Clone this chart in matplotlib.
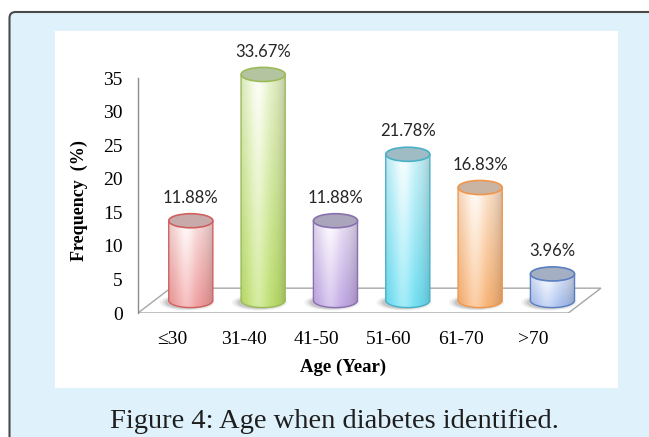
import numpy as np
import matplotlib.pyplot as plt
import matplotlib.colors as mcolors
from matplotlib.patches import Ellipse, Polygon, Rectangle, FancyBboxPatch

# age groups and share of patients (%)
ages = ['≤30', '31-40', '41-50', '51-60', '61-70', '>70']
freq = [11.88, 33.67, 11.88, 21.78, 16.83, 3.96]

body_colors = ['#ee8c8c', '#b5dc5a', '#b89be0', '#5cdcf2', '#f8a860', '#98b4ec']
edge_colors = ['#d06060', '#9bbb59', '#8a70b0', '#4ab0c8', '#f0964a', '#5a7fc0']
top_colors = ['#c8aaaa', '#b5c4a0', '#aaa5bb', '#9fbcc4', '#c9b4a4', '#a5afc4']

serif = ['Liberation Serif', 'DejaVu Serif']

W, H = 649, 437
fig = plt.figure(figsize=(W / 100, H / 100), dpi=100)

# page background: blue panel with white chart area
bg = fig.add_axes([0, 0, 1, 1])
bg.set_xlim(0, W)
bg.set_ylim(H, 0)
bg.axis('off')
bg.add_patch(FancyBboxPatch((9.5, 12), 700, 500,
                            boxstyle='round,pad=0,rounding_size=6',
                            fc='#dff1fa', ec='#4a4a4a', lw=1.5))
bg.add_patch(Rectangle((55, 31), 563, 357, fc='white', ec='none'))
bg.text(334, 421, 'Figure 4: Age when diabetes identified.', ha='center',
        va='center', fontsize=20.5, family=serif, color='#1e1e1e')

# y axis: 6.714 px per unit, zero at y=313 px; extra headroom for the tallest top
ymax = 39
ax = fig.add_axes([138 / W, 1 - 313 / H, 468 / W, ymax * 6.714 / H])
ax.patch.set_visible(False)

# pseudo-3d geometry
depth_dx, depth_dy = 0.45, 3.7
bar_dx = 0.26
base = 1.86
bw = 0.61
eh = 2.1

# floor
floor = [(-0.47, 0), (5.48, 0), (5.48 + depth_dx, depth_dy), (-0.47 + depth_dx, depth_dy)]
ax.add_patch(Polygon(floor, closed=True, fc='white', ec='#a6a6a6', lw=1.0, zorder=1))


def cylinder(xc, v, body, edge, top):
    x0, x1 = xc - bw / 2, xc + bw / 2
    y_top = base + v

    # soft shadow on the floor
    for k, a in zip([1.25, 1.12, 1.0], [0.08, 0.12, 0.16]):
        ax.add_patch(Ellipse((xc - 0.05, base - 0.3), bw * k, eh * k * 0.9,
                             fc='#505050', ec='none', alpha=a, zorder=2))

    th = np.linspace(np.pi, 2 * np.pi, 50)
    arc = np.column_stack([xc + bw / 2 * np.cos(th), base + eh / 2 * np.sin(th)])
    verts = np.vstack([[x0, y_top], arc, [x1, y_top]])
    shape = Polygon(verts, closed=True, transform=ax.transData)

    # gradient shading of the body
    rgb = np.array(mcolors.to_rgb(body))
    u = np.linspace(0, 1, 60)[None, :]
    t = np.linspace(1, 0, 120)[:, None]
    w = 0.12 + 0.55 * t + 0.3 * np.exp(-((u - 0.38) / 0.2) ** 2)
    w = np.clip(w, 0, 0.92)
    img = rgb[None, None, :] * (1 - w[..., None]) + w[..., None]
    img = img * (1 - 0.18 * (np.abs(u - 0.4) / 0.6) ** 3)[..., None]
    im = ax.imshow(np.clip(img, 0, 1), extent=[x0, x1, base - eh / 2, y_top],
                   aspect='auto', interpolation='bilinear', zorder=3)
    im.set_clip_path(shape)

    ax.add_patch(Polygon(verts, closed=False, fc='none', ec=edge, lw=1.0, zorder=4))
    ax.add_patch(Ellipse((xc, y_top), bw, eh, fc=top, ec=edge, lw=1.2, zorder=5))
    ax.text(xc, y_top + 3.4, f'{v:.2f}%', ha='center', va='center', fontsize=12,
            family=['Lato', 'DejaVu Sans'], color='#262626', clip_on=False, zorder=6)


for i, v in enumerate(freq):
    cylinder(i + bar_dx, v, body_colors[i], edge_colors[i], top_colors[i])

ax.set_xlim(-0.47, 6.0)
ax.set_ylim(0, ymax)
ax.set_xticks(range(len(ages)))
ax.set_xticklabels(ages, fontsize=14, family=serif)
ax.set_yticks(range(0, 36, 5))
ax.set_yticklabels([str(v) for v in range(0, 36, 5)], fontsize=14, family=serif)
ax.tick_params(axis='x', length=0, pad=13)
ax.tick_params(axis='y', length=0, pad=11)
for s in ['top', 'right', 'bottom']:
    ax.spines[s].set_visible(False)
ax.spines['left'].set_bounds(0, 35)
ax.spines['left'].set_color('#8c8c8c')
ax.spines['left'].set_linewidth(1.0)

ax.text((343 - 138) / 468, -54 / (ymax * 6.714), 'Age (Year)', transform=ax.transAxes,
        ha='center', va='center', fontsize=13.5, fontweight='bold', family=serif)
ax.text((79 - 138) / 468, 112 / (ymax * 6.714), 'Frequency  (%)', transform=ax.transAxes,
        ha='center', va='center', rotation=90, fontsize=13, fontweight='bold', family=serif)

fig.savefig('out.png', dpi=100)
